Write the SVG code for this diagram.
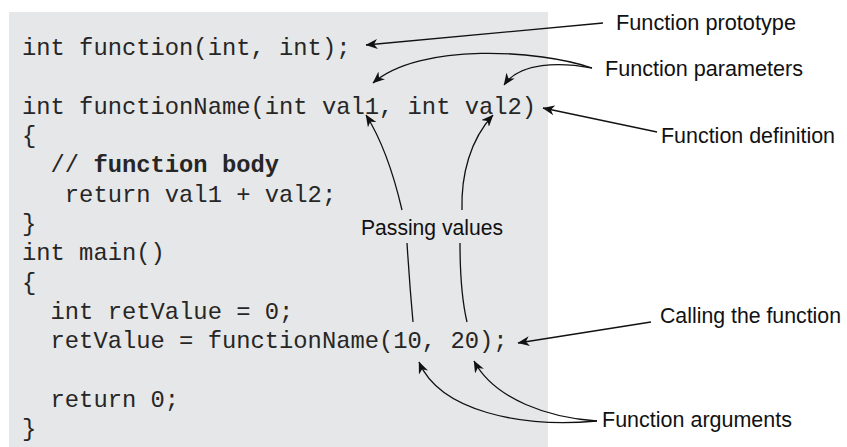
<svg xmlns="http://www.w3.org/2000/svg" width="847" height="447" viewBox="0 0 847 447">
  <style>
    .code { font-family: "Liberation Mono", "Courier New", monospace; font-size: 23.8px; fill: #262626; white-space: pre; }
    .code .b { font-weight: bold; }
    .label { font-family: "Liberation Sans", Arial, sans-serif; font-size: 22.5px; fill: #111; }
    .label.tight { font-size: 21.5px; }
    .conn { fill: none; stroke: #111; stroke-width: 1.3; }
    .arrow { marker-end: url(#head); }
  </style>
  <defs>
    <marker id="head" viewBox="0 0 12 10" refX="11.5" refY="5" markerWidth="12" markerHeight="10" markerUnits="userSpaceOnUse" orient="auto">
      <path d="M12,5 L0,0 L3.5,5 L0,10 z" fill="#111"/>
    </marker>
  </defs>

  <rect width="847" height="447" fill="#ffffff"/>

  <!-- code listing -->
  <g id="code-panel">
    <rect x="9" y="12" width="539" height="435" fill="#e6e7e8"/>
    <text class="code" xml:space="preserve">
      <tspan x="22" y="55">int function(int, int);</tspan>
      <tspan x="22" y="113.7">int functionName(int val1, int val2)</tspan>
      <tspan x="22" y="143">{</tspan>
      <tspan x="22" y="172.3">  // <tspan class="b">function body</tspan></tspan>
      <tspan x="22" y="201.7">   return val1 + val2;</tspan>
      <tspan x="22" y="231">}</tspan>
      <tspan x="22" y="260.3">int main()</tspan>
      <tspan x="22" y="289.7">{</tspan>
      <tspan x="22" y="319">  int retValue = 0;</tspan>
      <tspan x="22" y="348.3">  retValue = functionName(10, 20);</tspan>
      <tspan x="22" y="407">  return 0;</tspan>
      <tspan x="22" y="436.3">}</tspan>
    </text>
  </g>

  <!-- callout labels -->
  <g id="label-prototype">
    <text class="label" x="616" y="30" textLength="180" lengthAdjust="spacingAndGlyphs">Function prototype</text>
  </g>
  <g id="label-parameters">
    <text class="label" x="605" y="76" textLength="198" lengthAdjust="spacingAndGlyphs">Function parameters</text>
  </g>
  <g id="label-definition">
    <text class="label" x="661" y="143" textLength="174" lengthAdjust="spacingAndGlyphs">Function definition</text>
  </g>
  <g id="label-passing">
    <text class="label" x="361" y="235" textLength="142" lengthAdjust="spacingAndGlyphs">Passing values</text>
  </g>
  <g id="label-calling">
    <text class="label tight" x="660" y="323" textLength="181" lengthAdjust="spacingAndGlyphs">Calling the function</text>
  </g>
  <g id="label-arguments">
    <text class="label" x="602" y="427" textLength="190" lengthAdjust="spacingAndGlyphs">Function arguments</text>
  </g>

  <!-- connectors -->
  <g id="connectors">
    <path class="conn arrow" d="M603,23 L366,45"/>
    <path class="conn arrow" d="M592,68 C540,50 420,42 373,83"/>
    <path class="conn arrow" d="M592,68 C560,62 520,62 504,85"/>
    <path class="conn arrow" d="M657,132 L543,108"/>
    <path class="conn" d="M413,322 C411,300 409,275 407,243"/>
    <path class="conn arrow" d="M402,210 C395,180 385,145 366,115"/>
    <path class="conn" d="M467,322 C463,305 460,280 460,243"/>
    <path class="conn arrow" d="M462,210 C461,175 470,140 493,115"/>
    <path class="conn arrow" d="M651,322 L518,343"/>
    <path class="conn arrow" d="M597,421 C520,428 440,411 419,362"/>
    <path class="conn arrow" d="M597,421 C550,418 495,400 474,361"/>
  </g>
</svg>
